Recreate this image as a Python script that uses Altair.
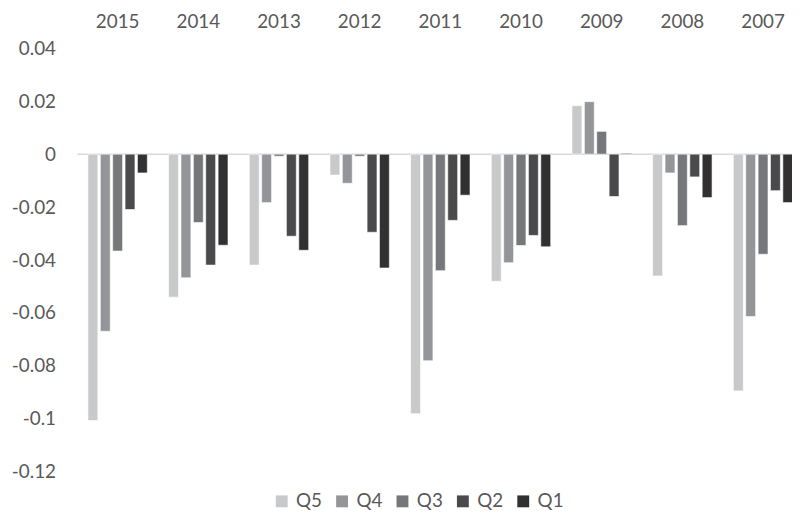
import altair as alt
import pandas as pd

years = ["2015", "2014", "2013", "2012", "2011", "2010", "2009", "2008", "2007"]
quantiles = ["Q5", "Q4", "Q3", "Q2", "Q1"]
q5 = [-0.1006, -0.0540, -0.0419, -0.0079, -0.0980, -0.0480, 0.0183, -0.0460, -0.0894]
q4 = [-0.0669, -0.0467, -0.0183, -0.0110, -0.0780, -0.0410, 0.0198, -0.0071, -0.0613]
q3 = [-0.0366, -0.0258, -0.0008, -0.0008, -0.0440, -0.0345, 0.0086, -0.0270, -0.0378]
q2 = [-0.0209, -0.0419, -0.0310, -0.0295, -0.0250, -0.0307, -0.0160, -0.0086, -0.0138]
q1 = [-0.0071, -0.0344, -0.0363, -0.0430, -0.0155, -0.0350, 0.0003, -0.0164, -0.0183]
colors = ["#c8c9cb", "#949598", "#76777a", "#4a4a4c", "#323031"]
y_ticks = [-0.12, -0.10, -0.08, -0.06, -0.04, -0.02, 0.0, 0.02, 0.04]

series = {"Q5": q5, "Q4": q4, "Q3": q3, "Q2": q2, "Q1": q1}
rows = []
for q in quantiles:
    for yr, v in zip(years, series[q]):
        rows.append({"year": yr, "quantile": q, "value": v})
df = pd.DataFrame(rows)

FONT = "Lato"
TXT = "#595959"

base = alt.Chart(df)

zero = alt.Chart(pd.DataFrame({"z": [0]})).mark_rule(color="#d9d9d9", strokeWidth=1.5).encode(
    y=alt.Y("z:Q", scale=alt.Scale(domain=[-0.12, 0.04], nice=False))
)

bars = base.mark_bar(stroke="#ffffff", strokeWidth=0.6).encode(
    x=alt.X(
        "year:N",
        sort=years,
        scale=alt.Scale(range=[0, 733.5], paddingInner=0.264, paddingOuter=0.132),
        axis=alt.Axis(
            orient="top", title=None, domain=False, ticks=False, labelAngle=0,
            labelPadding=17, labelFont=FONT, labelFontSize=19, labelColor=TXT,
        ),
    ),
    xOffset=alt.XOffset("quantile:N", sort=quantiles,
                        scale=alt.Scale(paddingInner=0.2, paddingOuter=0)),
    y=alt.Y(
        "value:Q",
        scale=alt.Scale(domain=[-0.12, 0.04], nice=False),
        axis=alt.Axis(
            title=None, domain=False, ticks=False, grid=False, values=y_ticks,
            format=".2~f", labelExpr="replace(datum.label, '\u2212', '-')",
            labelPadding=22, labelFont=FONT, labelFontSize=19, labelColor=TXT,
        ),
    ),
    color=alt.Color(
        "quantile:N", sort=quantiles,
        scale=alt.Scale(domain=quantiles, range=colors),
        legend=alt.Legend(
            title=None, orient="none", direction="horizontal", legendX=197, legendY=448,
            symbolType="square", symbolSize=144, symbolStrokeWidth=0,
            labelFont=FONT, labelFontSize=19, labelColor=TXT, labelOffset=5,
            columnPadding=10,
        ),
    ),
)

chart = alt.layer(zero, bars).properties(
    width=722, height=428,
    autosize=alt.AutoSizeParams(type="none"),
    padding={"left": 70, "top": 38, "right": 0, "bottom": 51},
    background="white",
).configure_view(stroke=None)

chart.save("out.html", embed_options={"renderer": "svg", "actions": False})
